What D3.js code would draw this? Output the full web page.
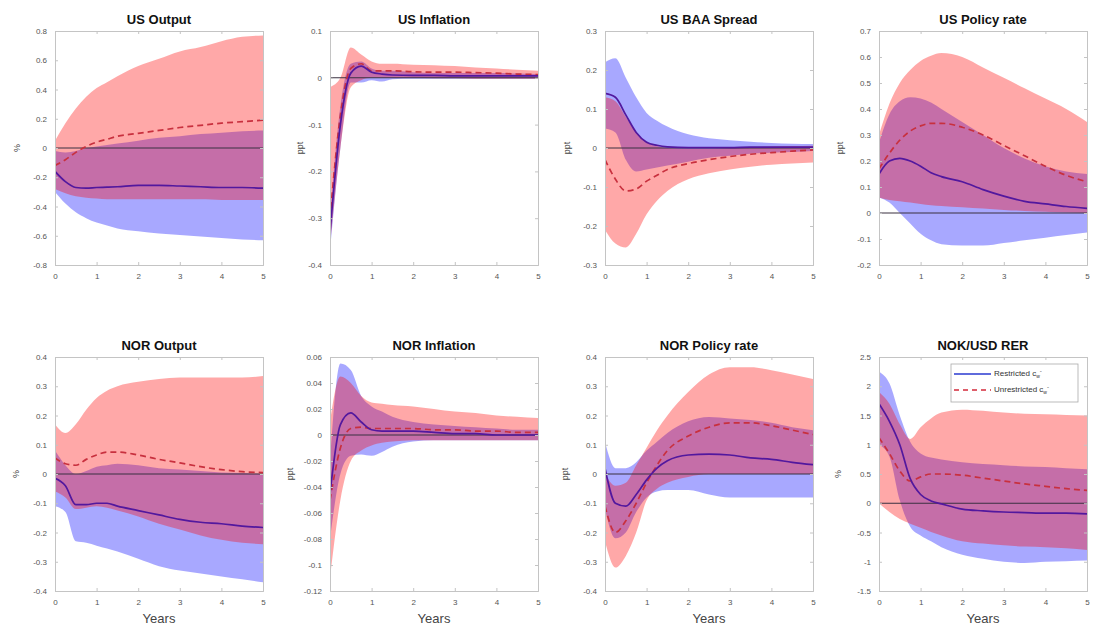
<!DOCTYPE html>
<html>
<head>
<meta charset="utf-8">
<script src="https://cdn.jsdelivr.net/npm/d3@7"></script>
<style>
  body { margin: 0; background: #fff; }
  svg { font-family: "Liberation Sans", Arial, sans-serif; }
</style>
</head>
<body>
<div id="chart"></div>
<script>
// Impulse responses, restricted (blue, solid) vs unrestricted (red, dashed), with bands

var years = [0, 0.25, 0.5, 0.75, 1, 1.25, 1.5, 2, 2.5, 3, 3.5, 4, 4.5, 5];
var xTicks = [0, 1, 2, 3, 4, 5];

// US Output
var usOutRes   = [-0.16, -0.23, -0.27, -0.275, -0.27, -0.268, -0.265, -0.255, -0.255, -0.26, -0.265, -0.27, -0.27, -0.275];
var usOutResLo = [-0.30, -0.38, -0.44, -0.48, -0.51, -0.53, -0.55, -0.57, -0.585, -0.595, -0.605, -0.615, -0.625, -0.63];
var usOutResHi = [-0.02, -0.03, -0.02, 0.0, 0.01, 0.02, 0.03, 0.05, 0.07, 0.08, 0.095, 0.105, 0.115, 0.12];
var usOutUnr   = [-0.12, -0.08, -0.03, 0.01, 0.04, 0.06, 0.08, 0.10, 0.12, 0.14, 0.155, 0.17, 0.18, 0.19];
var usOutUnrLo = [-0.28, -0.31, -0.33, -0.34, -0.345, -0.35, -0.35, -0.35, -0.35, -0.35, -0.35, -0.355, -0.355, -0.355];
var usOutUnrHi = [0.05, 0.17, 0.27, 0.35, 0.41, 0.45, 0.49, 0.56, 0.61, 0.66, 0.69, 0.73, 0.76, 0.77];
var usOutTicks = [-0.8, -0.6, -0.4, -0.2, 0, 0.2, 0.4, 0.6, 0.8];

// US Inflation
var usInfRes   = [-0.33, -0.10, 0.01, 0.025, 0.012, 0.008, 0.006, 0.005, 0.005, 0.004, 0.004, 0.004, 0.004, 0.004];
var usInfResLo = [-0.37, -0.15, -0.01, -0.01, -0.005, -0.008, -0.003, -0.002, -0.002, -0.002, -0.002, -0.002, -0.002, -0.002];
var usInfResHi = [-0.30, -0.06, 0.03, 0.035, 0.02, 0.015, 0.015, 0.012, 0.01, 0.01, 0.01, 0.01, 0.009, 0.008];
var usInfUnr   = [-0.30, -0.08, 0.02, 0.03, 0.015, 0.015, 0.015, 0.013, 0.012, 0.012, 0.011, 0.01, 0.008, 0.007];
var usInfUnrLo = [-0.36, -0.15, -0.02, -0.005, 0.0, 0.0, 0.0, 0.0, -0.001, -0.001, -0.002, -0.002, -0.002, -0.002];
var usInfUnrHi = [-0.02, 0.0, 0.065, 0.05, 0.035, 0.03, 0.03, 0.028, 0.027, 0.025, 0.022, 0.02, 0.017, 0.015];
var usInfTicks = [-0.4, -0.3, -0.2, -0.1, 0, 0.1];

// US BAA Spread
var usBaaRes   = [0.14, 0.13, 0.085, 0.04, 0.015, 0.007, 0.003, 0.001, 0.001, 0.001, 0.002, 0.002, 0.002, 0.002];
var usBaaResLo = [0.05, 0.04, -0.03, -0.06, -0.055, -0.05, -0.045, -0.035, -0.025, -0.02, -0.015, -0.012, -0.01, -0.008];
var usBaaResHi = [0.22, 0.23, 0.18, 0.13, 0.09, 0.07, 0.055, 0.035, 0.025, 0.02, 0.016, 0.013, 0.011, 0.01];
var usBaaUnr   = [-0.03, -0.08, -0.11, -0.105, -0.085, -0.07, -0.055, -0.04, -0.03, -0.022, -0.016, -0.012, -0.008, -0.005];
var usBaaUnrLo = [-0.21, -0.245, -0.255, -0.22, -0.17, -0.135, -0.11, -0.08, -0.065, -0.055, -0.048, -0.043, -0.04, -0.037];
var usBaaUnrHi = [0.13, 0.12, 0.08, 0.04, 0.015, 0.005, 0.0, -0.002, -0.002, 0.0, 0.002, 0.004, 0.005, 0.006];
var usBaaTicks = [-0.3, -0.2, -0.1, 0, 0.1, 0.2, 0.3];

// US Policy rate
var usPolRes   = [0.15, 0.20, 0.21, 0.20, 0.18, 0.155, 0.14, 0.12, 0.09, 0.065, 0.045, 0.035, 0.025, 0.018];
var usPolResLo = [0.06, 0.04, 0.0, -0.04, -0.08, -0.105, -0.12, -0.125, -0.125, -0.115, -0.105, -0.095, -0.085, -0.075];
var usPolResHi = [0.27, 0.38, 0.43, 0.445, 0.44, 0.425, 0.40, 0.35, 0.30, 0.25, 0.21, 0.18, 0.16, 0.15];
var usPolUnr   = [0.17, 0.23, 0.28, 0.315, 0.335, 0.345, 0.345, 0.33, 0.30, 0.26, 0.22, 0.18, 0.145, 0.12];
var usPolUnrLo = [0.06, 0.05, 0.045, 0.04, 0.035, 0.03, 0.027, 0.022, 0.017, 0.012, 0.008, 0.005, 0.002, 0.0];
var usPolUnrHi = [0.30, 0.42, 0.50, 0.55, 0.585, 0.605, 0.615, 0.60, 0.56, 0.52, 0.48, 0.44, 0.40, 0.35];
var usPolTicks = [-0.2, -0.1, 0, 0.1, 0.2, 0.3, 0.4, 0.5, 0.6, 0.7];

// NOR Output
var noOutRes   = [-0.015, -0.04, -0.105, -0.105, -0.10, -0.10, -0.11, -0.125, -0.14, -0.155, -0.165, -0.17, -0.178, -0.183];
var noOutResLo = [-0.11, -0.13, -0.23, -0.235, -0.245, -0.255, -0.265, -0.29, -0.315, -0.33, -0.34, -0.35, -0.36, -0.37];
var noOutResHi = [0.08, 0.03, 0.0, 0.01, 0.025, 0.03, 0.035, 0.03, 0.02, 0.015, 0.01, 0.005, 0.003, 0.0];
var noOutUnr   = [0.055, 0.035, 0.03, 0.05, 0.065, 0.075, 0.075, 0.065, 0.05, 0.038, 0.025, 0.015, 0.008, 0.005];
var noOutUnrLo = [-0.06, -0.08, -0.12, -0.115, -0.11, -0.115, -0.125, -0.145, -0.17, -0.19, -0.21, -0.225, -0.235, -0.24];
var noOutUnrHi = [0.17, 0.14, 0.17, 0.22, 0.26, 0.285, 0.30, 0.315, 0.325, 0.33, 0.33, 0.33, 0.33, 0.335];
var noOutTicks = [-0.4, -0.3, -0.2, -0.1, 0, 0.1, 0.2, 0.3, 0.4];

// NOR Inflation
var noInfRes   = [-0.045, 0.008, 0.017, 0.01, 0.004, 0.003, 0.003, 0.003, 0.002, 0.001, 0.001, 0.0, 0.0, 0.0];
var noInfResLo = [-0.08, -0.03, -0.016, -0.015, -0.016, -0.013, -0.009, -0.005, -0.004, -0.004, -0.004, -0.004, -0.004, -0.004];
var noInfResHi = [-0.02, 0.055, 0.05, 0.03, 0.022, 0.018, 0.014, 0.01, 0.008, 0.007, 0.006, 0.005, 0.004, 0.004];
var noInfUnr   = [-0.05, -0.01, 0.005, 0.006, 0.005, 0.005, 0.005, 0.005, 0.004, 0.004, 0.003, 0.003, 0.002, 0.002];
var noInfUnrLo = [-0.11, -0.05, -0.02, -0.012, -0.008, -0.006, -0.005, -0.004, -0.004, -0.004, -0.004, -0.004, -0.004, -0.004];
var noInfUnrHi = [0.01, 0.045, 0.04, 0.03, 0.025, 0.024, 0.023, 0.022, 0.02, 0.018, 0.017, 0.015, 0.014, 0.013];
var noInfTicks = [-0.12, -0.1, -0.08, -0.06, -0.04, -0.02, 0, 0.02, 0.04, 0.06];

// NOR Policy rate
var noPolRes   = [0.02, -0.10, -0.11, -0.07, -0.02, 0.02, 0.045, 0.065, 0.068, 0.065, 0.055, 0.05, 0.04, 0.032];
var noPolResLo = [-0.12, -0.22, -0.20, -0.13, -0.08, -0.06, -0.055, -0.055, -0.07, -0.08, -0.08, -0.08, -0.08, -0.08];
var noPolResHi = [0.11, 0.02, 0.02, 0.04, 0.08, 0.11, 0.14, 0.18, 0.195, 0.19, 0.185, 0.175, 0.16, 0.15];
var noPolUnr   = [-0.11, -0.20, -0.16, -0.10, -0.03, 0.03, 0.08, 0.13, 0.16, 0.175, 0.175, 0.165, 0.15, 0.135];
var noPolUnrLo = [-0.23, -0.32, -0.28, -0.20, -0.09, -0.05, -0.03, -0.01, 0.0, 0.0, 0.0, 0.0, 0.0, 0.0];
var noPolUnrHi = [0.0, -0.04, -0.03, 0.03, 0.09, 0.15, 0.20, 0.28, 0.34, 0.365, 0.365, 0.355, 0.34, 0.325];
var noPolTicks = [-0.4, -0.3, -0.2, -0.1, 0, 0.1, 0.2, 0.3, 0.4];

// NOK/USD RER
var rerRes   = [1.7, 1.4, 1.0, 0.42, 0.15, 0.04, -0.01, -0.1, -0.13, -0.15, -0.16, -0.17, -0.17, -0.18];
var rerResLo = [1.0, 0.8, 0.05, -0.4, -0.55, -0.65, -0.75, -0.88, -0.95, -1.0, -1.02, -1.0, -0.99, -0.98];
var rerResHi = [2.25, 2.05, 1.5, 1.05, 0.85, 0.78, 0.75, 0.7, 0.67, 0.65, 0.63, 0.62, 0.6, 0.58];
var rerUnr   = [1.12, 0.85, 0.55, 0.38, 0.45, 0.5, 0.5, 0.48, 0.43, 0.38, 0.33, 0.29, 0.25, 0.22];
var rerUnrLo = [0.0, -0.15, -0.27, -0.35, -0.42, -0.49, -0.55, -0.65, -0.69, -0.72, -0.74, -0.75, -0.77, -0.8];
var rerUnrHi = [1.9, 1.7, 1.35, 1.1, 1.3, 1.45, 1.55, 1.6, 1.58, 1.55, 1.53, 1.52, 1.51, 1.5];
var rerTicks = [-1.5, -1, -0.5, 0, 0.5, 1, 1.5, 2, 2.5];

var panels = [
  { title: "US Output", unit: "%", ticks: usOutTicks, res: usOutRes, resLo: usOutResLo, resHi: usOutResHi, unr: usOutUnr, unrLo: usOutUnrLo, unrHi: usOutUnrHi },
  { title: "US Inflation", unit: "ppt", ticks: usInfTicks, res: usInfRes, resLo: usInfResLo, resHi: usInfResHi, unr: usInfUnr, unrLo: usInfUnrLo, unrHi: usInfUnrHi },
  { title: "US BAA Spread", unit: "ppt", ticks: usBaaTicks, res: usBaaRes, resLo: usBaaResLo, resHi: usBaaResHi, unr: usBaaUnr, unrLo: usBaaUnrLo, unrHi: usBaaUnrHi },
  { title: "US Policy rate", unit: "ppt", ticks: usPolTicks, res: usPolRes, resLo: usPolResLo, resHi: usPolResHi, unr: usPolUnr, unrLo: usPolUnrLo, unrHi: usPolUnrHi },
  { title: "NOR Output", unit: "%", ticks: noOutTicks, res: noOutRes, resLo: noOutResLo, resHi: noOutResHi, unr: noOutUnr, unrLo: noOutUnrLo, unrHi: noOutUnrHi },
  { title: "NOR Inflation", unit: "ppt", ticks: noInfTicks, res: noInfRes, resLo: noInfResLo, resHi: noInfResHi, unr: noInfUnr, unrLo: noInfUnrLo, unrHi: noInfUnrHi },
  { title: "NOR Policy rate", unit: "ppt", ticks: noPolTicks, res: noPolRes, resLo: noPolResLo, resHi: noPolResHi, unr: noPolUnr, unrLo: noPolUnrLo, unrHi: noPolUnrHi },
  { title: "NOK/USD RER", unit: "%", ticks: rerTicks, res: rerRes, resLo: rerResLo, resHi: rerResHi, unr: rerUnr, unrLo: rerUnrLo, unrHi: rerUnrHi }
];

var svgWidth = 1093;
var svgHeight = 627;
var colLeft = [55, 330, 605, 879];
var rowTop = [31, 357];
var plotW = 208;
var plotH = 234;
var unitOffset = [38, 30, 38, 39, 39, 40, 40, 41];

var svg = d3.select("#chart")
  .append("svg")
  .attr("width", svgWidth)
  .attr("height", svgHeight);

var defs = svg.append("defs");

var fmt = function(d) { return String(+d.toFixed(2)); };

panels.forEach(function(p, i) {
  var row = Math.floor(i / 4);
  var col = i % 4;
  var left = colLeft[col];
  var top = rowTop[row];

  var x = d3.scaleLinear().domain([0, 5]).range([0, plotW]);
  var y = d3.scaleLinear()
    .domain([p.ticks[0], p.ticks[p.ticks.length - 1]])
    .range([plotH, 0]);

  var g = svg.append("g").attr("transform", `translate(${left}, ${top})`);

  defs.append("clipPath").attr("id", "clip" + i)
    .append("rect").attr("width", plotW).attr("height", plotH);

  var plot = g.append("g").attr("clip-path", `url(#clip${i})`);

  var band = function(lo, hi) {
    return d3.area()
      .x(function(d, k) { return x(years[k]); })
      .y0(function(d, k) { return y(lo[k]); })
      .y1(function(d, k) { return y(hi[k]); })
      .curve(d3.curveMonotoneX)(years);
  };
  var line = function(vals) {
    return d3.line()
      .x(function(d, k) { return x(years[k]); })
      .y(function(d, k) { return y(vals[k]); })
      .curve(d3.curveMonotoneX)(years);
  };

  // bands: blue first, red on top
  plot.append("path").attr("d", band(p.resLo, p.resHi))
    .attr("fill", "rgb(0,0,255)").attr("fill-opacity", 0.34);
  plot.append("path").attr("d", band(p.unrLo, p.unrHi))
    .attr("fill", "rgb(255,0,0)").attr("fill-opacity", 0.34);

  // zero line
  plot.append("line")
    .attr("x1", 0).attr("x2", plotW)
    .attr("y1", y(0)).attr("y2", y(0))
    .attr("stroke", "#3a3040").attr("stroke-width", 1.1);

  plot.append("path").attr("d", line(p.unr))
    .attr("fill", "none").attr("stroke", "#c8303e")
    .attr("stroke-width", 1.7).attr("stroke-dasharray", "6,4");
  plot.append("path").attr("d", line(p.res))
    .attr("fill", "none").attr("stroke", "#52189e")
    .attr("stroke-width", 1.7);

  // axes
  var leftAxis = d3.axisLeft(y).tickValues(p.ticks).tickFormat(fmt).tickSize(-3).tickPadding(8);
  var bottomAxis = d3.axisBottom(x).tickValues(xTicks).tickFormat(fmt).tickSize(-3).tickPadding(8);
  var rightAxis = d3.axisRight(y).tickValues(p.ticks).tickFormat("").tickSize(-3);
  var topAxis = d3.axisTop(x).tickValues(xTicks).tickFormat("").tickSize(-3);

  g.append("g").call(leftAxis);
  g.append("g").attr("transform", `translate(0, ${plotH})`).call(bottomAxis);
  g.append("g").attr("transform", `translate(${plotW}, 0)`).call(rightAxis);
  g.append("g").call(topAxis);

  g.selectAll(".domain").attr("stroke", "#c4c4c4");
  g.selectAll(".tick line").attr("stroke", "#c4c4c4");
  g.selectAll(".tick text").attr("fill", "#555").attr("font-size", 8)
    .attr("font-family", "Liberation Sans, Arial, sans-serif");

  // title
  g.append("text")
    .attr("x", plotW / 2).attr("y", -7)
    .attr("text-anchor", "middle")
    .attr("font-size", 13).attr("font-weight", "bold").attr("fill", "#111")
    .text(p.title);

  // unit label, centred on the plot height
  g.append("text")
    .attr("transform", `translate(${-unitOffset[i]}, ${plotH / 2}) rotate(-90)`)
    .attr("text-anchor", "middle")
    .attr("dy", "0.35em")
    .attr("font-size", 9).attr("fill", "#444")
    .text(p.unit);

  if (row === 1) {
    g.append("text")
      .attr("x", plotW / 2).attr("y", plotH + 32)
      .attr("text-anchor", "middle")
      .attr("font-size", 13).attr("fill", "#444")
      .text("Years");
  }
});

// legend in the last panel
var legend = svg.append("g").attr("transform", "translate(951, 364)");
legend.append("rect").attr("width", 127).attr("height", 38)
  .attr("fill", "#fff").attr("stroke", "#aaa").attr("stroke-width", 0.8);
legend.append("line").attr("x1", 3).attr("x2", 40).attr("y1", 10).attr("y2", 10)
  .attr("stroke", "#2a3ad0").attr("stroke-width", 1.5);
legend.append("line").attr("x1", 3).attr("x2", 40).attr("y1", 26).attr("y2", 26)
  .attr("stroke", "#d42a3a").attr("stroke-width", 1.5).attr("stroke-dasharray", "5,4");

var legendNames = ["Restricted", "Unrestricted"];
legendNames.forEach(function(name, k) {
  var t = legend.append("text").attr("x", 43).attr("y", 12 + k * 16)
    .attr("font-size", 8).attr("fill", "#333");
  t.append("tspan").text(name + " c");
  t.append("tspan").attr("font-size", 5).attr("dy", 2).text("w");
  t.append("tspan").attr("font-size", 6).attr("dy", -5).text("-");
});
</script>
</body>
</html>
